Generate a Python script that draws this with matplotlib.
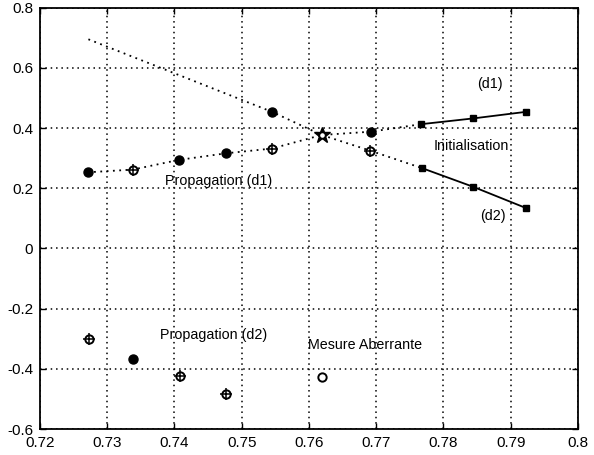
import matplotlib
matplotlib.use("Agg")
import matplotlib.pyplot as plt

plt.rcParams['font.family'] = ['Liberation Sans', 'DejaVu Sans']

# droite d1 (propagation pointillee puis initialisation en trait plein)
d1_x = [0.7271, 0.7338, 0.7406, 0.7476, 0.7545, 0.7619, 0.7692, 0.7767]
d1_y = [0.253, 0.262, 0.294, 0.316, 0.332, 0.377, 0.388, 0.413]
d1_init_x = [0.7767, 0.7844, 0.7923]
d1_init_y = [0.413, 0.432, 0.454]

# droite d2
d2_x = [0.7272, 0.7545, 0.7619, 0.7691, 0.7768]
d2_y = [0.695, 0.454, 0.377, 0.325, 0.267]
d2_init_x = [0.7768, 0.7844, 0.7923]
d2_init_y = [0.267, 0.205, 0.134]

# mesures
filled_x = [0.7271, 0.7406, 0.7476, 0.7545, 0.7692, 0.7339]
filled_y = [0.253, 0.294, 0.316, 0.454, 0.388, -0.366]
open_plus_x = [0.7338, 0.7545, 0.7691, 0.7273, 0.7408, 0.7476]
open_plus_y = [0.262, 0.332, 0.325, -0.301, -0.425, -0.484]
star_x = [0.7619]
star_y = [0.377]
outlier_x = [0.7619]
outlier_y = [-0.426]

fig = plt.figure(figsize=(5.94, 4.55), dpi=100)
ax = fig.add_axes([0.0673, 0.0571, 0.9057, 0.926])

ax.plot(d1_x, d1_y, color='black', linestyle=(0, (1, 2.5)), linewidth=1.3)
ax.plot(d2_x, d2_y, color='black', linestyle=(0, (1, 2.5)), linewidth=1.3)
ax.plot(d1_init_x, d1_init_y, color='black', linewidth=1.3, marker='s', markersize=5)
ax.plot(d2_init_x, d2_init_y, color='black', linewidth=1.3, marker='s', markersize=5)

ax.plot(filled_x, filled_y, 'o', color='black', markersize=6.5, linestyle='none')
ax.plot(open_plus_x, open_plus_y, 'o', markerfacecolor='white', markeredgecolor='black',
        markersize=6, markeredgewidth=1.4, linestyle='none')
ax.plot(open_plus_x, open_plus_y, '+', color='black', markersize=9, markeredgewidth=1.1,
        linestyle='none')
ax.plot(star_x, star_y, '*', color='black', markersize=12, linestyle='none')
ax.plot(star_x, star_y, 'o', markerfacecolor='white', markeredgecolor='black',
        markersize=4.5, markeredgewidth=1.2, linestyle='none')
ax.plot(outlier_x, outlier_y, 'o', markerfacecolor='white', markeredgecolor='black',
        markersize=6, markeredgewidth=1.4, linestyle='none')

fs = 10.3
ax.text(0.7386, 0.225, 'Propagation (d1)', fontsize=fs, va='center')
ax.text(0.7850, 0.547, '(d1)', fontsize=fs, va='center')
ax.text(0.7785, 0.341, 'Initialisation', fontsize=fs, va='center')
ax.text(0.7854, 0.108, '(d2)', fontsize=fs, va='center')
ax.text(0.7378, -0.287, 'Propagation (d2)', fontsize=fs, va='center')
ax.text(0.7598, -0.321, 'Mesure Aberrante', fontsize=fs, va='center')

ax.set_xlim(0.72, 0.8)
ax.set_ylim(-0.6, 0.8)
xt = [0.72, 0.73, 0.74, 0.75, 0.76, 0.77, 0.78, 0.79, 0.8]
yt = [-0.6, -0.4, -0.2, 0, 0.2, 0.4, 0.6, 0.8]
ax.set_xticks(xt)
ax.set_xticklabels(['0.72', '0.73', '0.74', '0.75', '0.76', '0.77', '0.78', '0.79', '0.8'])
ax.set_yticks(yt)
ax.set_yticklabels(['-0.6', '-0.4', '-0.2', '0', '0.2', '0.4', '0.6', '0.8'])
ax.tick_params(direction='in', top=True, right=True, labelsize=11, length=4, width=1,
               pad=5)
ax.grid(True, color='black', linestyle=(0, (1, 2.5)), linewidth=1.1)
for s in ax.spines.values():
    s.set_linewidth(1.3)

fig.savefig('out.png', dpi=100)
